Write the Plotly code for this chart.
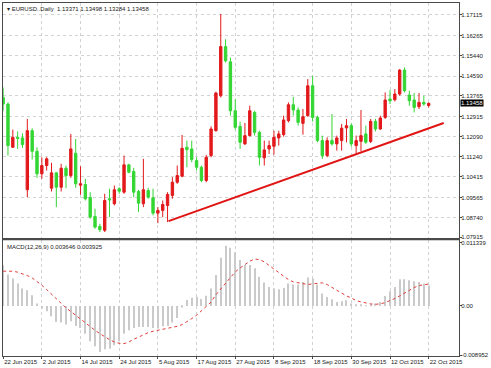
import plotly.graph_objects as go
import pandas as pd

# ---------------- data ----------------
dates = pd.bdate_range("2015-06-22", "2015-10-22")  # one daily bar per trading day

opens = [1.13703, 1.13431, 1.11640, 1.12053, 1.12028, 1.09883, 1.12329, 1.11475, 1.10543, 1.10885,
         1.09949, 1.10584, 1.09990, 1.10774, 1.10473, 1.11393, 1.10073, 1.10101, 1.09565, 1.08781,
         1.08369, 1.08204, 1.09511, 1.09305, 1.09924, 1.09784, 1.10914, 1.10638, 1.09813, 1.09305,
         1.09854, 1.09553, 1.08917, 1.09029, 1.09235, 1.09648, 1.10196, 1.10444, 1.11640, 1.11574,
         1.11092, 1.10815, 1.10267, 1.11298, 1.12329, 1.13773, 1.15807, 1.15176, 1.13154, 1.12507,
         1.11781, 1.12123, 1.13084, 1.12259, 1.11203, 1.11574, 1.11682, 1.12028, 1.12164, 1.12742,
         1.13402, 1.13183, 1.12631, 1.12948, 1.14186, 1.12878, 1.11917, 1.11298, 1.11917, 1.11781,
         1.11917, 1.12441, 1.12536, 1.11710, 1.11888, 1.12193, 1.11876, 1.12713, 1.12399, 1.12878,
         1.13637, 1.13608, 1.13843, 1.14834, 1.13802, 1.13596, 1.13320, 1.13497, 1.13371]
highs = [1.14116, 1.13497, 1.12371, 1.12300, 1.12218, 1.12812, 1.12424, 1.11640, 1.11228, 1.11228,
         1.10997, 1.10609, 1.10956, 1.10885, 1.12193, 1.11987, 1.10856, 1.10337, 1.09784, 1.09099,
         1.08480, 1.09718, 1.09924, 1.10060, 1.09990, 1.11298, 1.10956, 1.10790, 1.09883, 1.11162,
         1.09965, 1.09924, 1.09165, 1.09441, 1.09784, 1.10403, 1.10885, 1.12152, 1.11917, 1.11917,
         1.11228, 1.10885, 1.11327, 1.12507, 1.13938, 1.17160, 1.16112, 1.15353, 1.13637, 1.12701,
         1.12647, 1.13361, 1.13154, 1.12329, 1.11917, 1.11917, 1.12329, 1.12329, 1.12948, 1.13497,
         1.13732, 1.13291, 1.13224, 1.14462, 1.14598, 1.12948, 1.12123, 1.12053, 1.13018, 1.12123,
         1.12606, 1.12812, 1.12630, 1.12123, 1.13183, 1.12536, 1.12812, 1.12812, 1.12948, 1.13909,
         1.14008, 1.14050, 1.14875, 1.14941, 1.13980, 1.13885, 1.13885, 1.13773, 1.13498]
lows = [1.13154, 1.11298, 1.11628, 1.11574, 1.11616, 1.09578, 1.11133, 1.10378, 1.10337, 1.10679,
        1.09813, 1.09165, 1.09813, 1.09949, 1.10378, 1.09965, 1.09677, 1.09441, 1.08686, 1.08274,
        1.08134, 1.08134, 1.08752, 1.09235, 1.09718, 1.09718, 1.10568, 1.09578, 1.08959, 1.09165,
        1.09511, 1.08823, 1.08505, 1.08752, 1.08546, 1.09511, 1.10130, 1.10403, 1.10815, 1.11022,
        1.10679, 1.10196, 1.10196, 1.11228, 1.12288, 1.13703, 1.15147, 1.12948, 1.12371, 1.11574,
        1.11739, 1.12094, 1.12123, 1.10885, 1.10885, 1.11368, 1.11337, 1.11710, 1.12082, 1.12672,
        1.12948, 1.12536, 1.12164, 1.12907, 1.12701, 1.11847, 1.11162, 1.11228, 1.11710, 1.11504,
        1.11504, 1.11847, 1.11669, 1.11368, 1.11475, 1.11781, 1.11822, 1.12300, 1.12358, 1.12812,
        1.13431, 1.13538, 1.13773, 1.13909, 1.13361, 1.13084, 1.13225, 1.13361, 1.13284]
closes = [1.13431, 1.11710, 1.12053, 1.12012, 1.11752, 1.12329, 1.11475, 1.10543, 1.10885, 1.11162,
          1.10584, 1.09990, 1.10774, 1.10473, 1.11574, 1.10130, 1.10130, 1.09511, 1.08752, 1.08340,
          1.08233, 1.09441, 1.09470, 1.09883, 1.09825, 1.10914, 1.10609, 1.09784, 1.09330, 1.09883,
          1.09578, 1.08917, 1.09029, 1.09276, 1.09689, 1.10196, 1.10473, 1.11599, 1.11545, 1.11133,
          1.10815, 1.10267, 1.11228, 1.12399, 1.13885, 1.15807, 1.15217, 1.13154, 1.12466, 1.11847,
          1.12123, 1.13154, 1.12259, 1.11228, 1.11533, 1.11710, 1.12053, 1.12193, 1.12771, 1.13402,
          1.13183, 1.12672, 1.12907, 1.14186, 1.12878, 1.11917, 1.11298, 1.11917, 1.11781, 1.12028,
          1.12432, 1.12536, 1.11781, 1.11917, 1.12123, 1.11847, 1.12713, 1.12399, 1.12853, 1.13596,
          1.13567, 1.13843, 1.14834, 1.13980, 1.13567, 1.13291, 1.13497, 1.13431, 1.13458]

macd_main = [0.007296, 0.005621, 0.004904, 0.004007, 0.003110, 0.002811, 0.001914, 0.000419, -0.000478, -0.000957,
             -0.001854, -0.002870, -0.002990, -0.003349, -0.002751, -0.003588, -0.003947, -0.004963, -0.006339, -0.007236,
             -0.008252, -0.007774, -0.007654, -0.007056, -0.006339, -0.004963, -0.004365, -0.003947, -0.003767, -0.003767,
             -0.003767, -0.003947, -0.004066, -0.003648, -0.003588, -0.002990, -0.002153, -0.000300, 0.001050, 0.001470,
             0.001640, 0.001230, 0.001820, 0.003140, 0.005530, 0.008640, 0.010790, 0.010440, 0.009600, 0.008220,
             0.007330, 0.007330, 0.006730, 0.005203, 0.004186, 0.003409, 0.003110, 0.002990, 0.003229, 0.004007,
             0.003827, 0.003827, 0.004306, 0.005083, 0.004904, 0.003827, 0.002213, 0.001615, 0.001196, 0.000718,
             0.000837, 0.001017, 0.000419, 0.000239, 0.000120, 0.000060, 0.000239, 0.000419, 0.000718, 0.001794,
             0.002631, 0.003409, 0.004784, 0.004784, 0.004605, 0.004425, 0.004306, 0.004007, 0.003646]
macd_signal = [0.00622, 0.00628, 0.00622, 0.00604, 0.00580, 0.00544, 0.00502, 0.00443, 0.00371, 0.00293,
               0.00209, 0.00132, 0.00042, -0.00036, -0.00100, -0.00170, -0.00240, -0.00300, -0.00370, -0.00437,
               -0.00496, -0.00556, -0.00604, -0.00646, -0.00670, -0.00676, -0.00646, -0.00598, -0.00556, -0.00514,
               -0.00478, -0.00454, -0.00437, -0.00413, -0.00395, -0.00383, -0.00365, -0.00335, -0.00287, -0.00227,
               -0.00167, -0.00090, -0.00010, 0.00070, 0.00200, 0.00300, 0.00420, 0.00520, 0.00610, 0.00680,
               0.00740, 0.00800, 0.00840, 0.00830, 0.00789, 0.00730, 0.00670, 0.00598, 0.00532, 0.00472,
               0.00431, 0.00413, 0.00395, 0.00383, 0.00395, 0.00407, 0.00413, 0.00383, 0.00329, 0.00281,
               0.00221, 0.00179, 0.00144, 0.00096, 0.00072, 0.00048, 0.00036, 0.00030, 0.00036, 0.00060,
               0.00090, 0.00132, 0.00179, 0.00233, 0.00281, 0.00329, 0.00365, 0.00383, 0.003925]

# trend line drawn on the chart: (bar position, price) of its two ends
trend_bars = [34.2, 91.1]
trend_prices = [1.08587, 1.12647]

price_ticks = [1.17115, 1.16265, 1.15440, 1.14590, 1.13765, 1.12915,
               1.12090, 1.11240, 1.10415, 1.09565, 1.08740, 1.07915]
date_labels = ["22 Jun 2015", "2 Jul 2015", "14 Jul 2015", "24 Jul 2015", "5 Aug 2015", "17 Aug 2015",
               "27 Aug 2015", "8 Sep 2015", "18 Sep 2015", "30 Sep 2015", "12 Oct 2015", "22 Oct 2015"]
macd_ticks = [0.011339, 0.0, -0.0088]
macd_ticktext = ["0.011339", "0.00", "-0.008952"]
last_price = 1.13458
title_text = "▾ EURUSD..Daily  1.13371 1.13498 1.13284 1.13458"
macd_text = "MACD(12,26,9) 0.003646 0.003925"

# ---------------- figure ----------------
bar_pos = list(range(len(dates)))
date_str = [f"{d.day} {d.strftime('%b %Y')}" for d in dates]
date_tick_pos = [date_str.index(s) for s in date_labels]

RED = "#e2191b"
GREEN = "#33d633"
FAM = "Liberation Sans, Arial, sans-serif"
FONT = dict(family=FAM, size=6, color="#1a1a1a")
GRID = "#d2d2d2"
FRAME = "#4a4a4a"
XR = [-0.03, 94.27]

fig = go.Figure()
fig.add_trace(go.Candlestick(
    x=bar_pos, open=opens, high=highs, low=lows, close=closes,
    increasing=dict(line=dict(color=RED, width=1), fillcolor=RED),
    decreasing=dict(line=dict(color=GREEN, width=1), fillcolor=GREEN),
    whiskerwidth=0, xaxis="x", yaxis="y", hoverinfo="skip"))
fig.add_trace(go.Scatter(x=trend_bars, y=trend_prices, mode="lines",
                         line=dict(color="#e01414", width=2), xaxis="x", yaxis="y"))
fig.add_trace(go.Bar(x=bar_pos, y=macd_main, width=0.22, marker=dict(color="#cacaca", line=dict(width=0)),
                     xaxis="x2", yaxis="y2"))
fig.add_trace(go.Scatter(x=bar_pos, y=macd_signal, mode="lines",
                         line=dict(color="#e03a3a", width=1, dash="dot"), xaxis="x2", yaxis="y2"))

fig.update_layout(
    width=491, height=368,
    margin=dict(l=2, r=27, t=2, b=12),
    paper_bgcolor="white", plot_bgcolor="white",
    showlegend=False, font=FONT,
    xaxis=dict(domain=[0, 1], anchor="y", range=XR, tickvals=date_tick_pos, showticklabels=False,
               showgrid=True, gridcolor=GRID, griddash="dot", gridwidth=1, zeroline=False,
               showline=True, mirror=True, linecolor=FRAME, linewidth=1, ticks="",
               rangeslider=dict(visible=False)),
    yaxis=dict(domain=[0.3333, 1], anchor="x", range=[1.07874, 1.17610], side="right",
               tickvals=price_ticks, ticktext=[f"{p:.5f}" for p in price_ticks],
               showgrid=True, gridcolor=GRID, griddash="dot", zeroline=False,
               showline=True, mirror=True, linecolor=FRAME, linewidth=1,
               ticks="outside", ticklen=2, tickcolor=FRAME, tickfont=FONT, ticklabelstandoff=-2),
    xaxis2=dict(domain=[0, 1], anchor="y2", range=XR, tickvals=date_tick_pos, ticktext=date_labels,
                ticklabelposition="outside right", tickangle=0, ticks="outside", ticklen=2, tickcolor=FRAME,
                showgrid=True, gridcolor=GRID, griddash="dot", zeroline=False,
                showline=True, mirror=True, linecolor=FRAME, linewidth=1, tickfont=FONT),
    yaxis2=dict(domain=[0, 0.3277], anchor="x2", range=[-0.00897, 0.01175], side="right",
                tickvals=macd_ticks, ticktext=macd_ticktext, showgrid=False, zeroline=False,
                showline=True, mirror=True, linecolor=FRAME, linewidth=1,
                ticks="outside", ticklen=2, tickcolor=FRAME, tickfont=FONT, ticklabelstandoff=-2),
    shapes=[dict(type="rect", xref="paper", yref="paper", x0=0, x1=1, y0=0.3277, y1=0.3333,
                 fillcolor=FRAME, line=dict(width=0), layer="above")],
    annotations=[
        dict(text=title_text, xref="paper", yref="paper", x=0, y=1, xanchor="left", yanchor="top",
             xshift=2, yshift=-1, showarrow=False, font=FONT),
        dict(text=macd_text, xref="x2 domain", yref="y2 domain", x=0, y=1, xanchor="left", yanchor="top",
             xshift=2, yshift=-2, showarrow=False, font=FONT),
        dict(text=f"{last_price:.5f}", xref="paper", yref="y", x=1, y=last_price,
             xanchor="left", yanchor="middle", xshift=1, showarrow=False, bgcolor="black", borderpad=0,
             font=dict(family=FAM, size=6, color="white")),
    ],
)

fig.write_html("out.html", config={"displayModeBar": False},
               post_script="document.body.style.margin='0';document.body.style.overflow='hidden';")
